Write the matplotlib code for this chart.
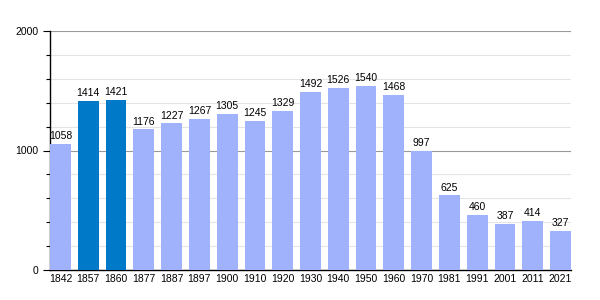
import matplotlib.pyplot as plt
from matplotlib.ticker import MultipleLocator

years = ["1842", "1857", "1860", "1877", "1887", "1897", "1900", "1910", "1920", "1930",
         "1940", "1950", "1960", "1970", "1981", "1991", "2001", "2011", "2021"]
population = [1058, 1414, 1421, 1176, 1227, 1267, 1305, 1245, 1329, 1492,
              1526, 1540, 1468, 997, 625, 460, 387, 414, 327]
highlight = ["1857", "1860"]


def main():
    plt.rcParams["font.family"] = ["Liberation Sans", "DejaVu Sans"]
    fig = plt.figure(figsize=(6, 3), dpi=100)
    ax = fig.add_axes([50 / 600, 30 / 300, 521 / 600, 239 / 300])

    x = range(len(years))
    colors = ["#0079c9" if y in highlight else "#a0b2fc" for y in years]
    bars = ax.bar(x, population, width=0.75, color=colors, zorder=3)
    for b, v in zip(bars, population):
        ax.annotate(str(v), (b.get_x() + b.get_width() / 2, v), xytext=(0, 2),
                    textcoords="offset points", ha="center", va="bottom", fontsize=7.5)

    ax.set_xlim(-0.375, len(years) - 1 + 0.375)
    ax.set_ylim(0, 2000)
    ax.set_xticks(list(x))
    ax.set_xticklabels(years, fontsize=7.5)
    ax.yaxis.set_major_locator(MultipleLocator(1000))
    ax.yaxis.set_minor_locator(MultipleLocator(200))
    ax.tick_params(axis="y", labelsize=7.5, length=5, width=0.8)
    ax.tick_params(axis="y", which="minor", length=3, width=0.8)
    ax.tick_params(axis="x", length=0, pad=3)
    ax.grid(axis="y", which="major", color="#999999", linewidth=0.8, zorder=0)
    ax.grid(axis="y", which="minor", color="#e4e4e4", linewidth=0.8, zorder=0)
    for s in ["top", "right"]:
        ax.spines[s].set_visible(False)
    ax.spines["left"].set_linewidth(1)
    ax.spines["bottom"].set_linewidth(1)
    ax.set_axisbelow(True)

    fig.savefig("out.png", dpi=100)


if __name__ == "__main__":
    main()
